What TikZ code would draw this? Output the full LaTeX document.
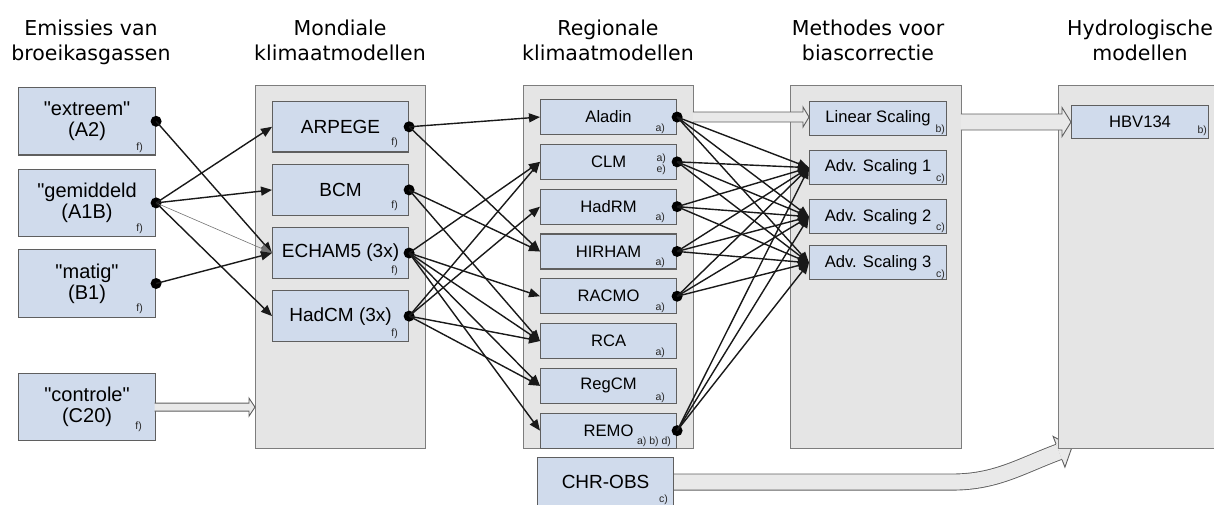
\documentclass[tikz,border=0pt]{standalone}
\usepackage{fontspec}
\setmainfont{Liberation Sans}[Ligatures=TeXOff]
\newfontfamily\headfont{DejaVu Sans}
\usetikzlibrary{positioning,arrows.meta,calc,backgrounds}

\definecolor{modelfill}{RGB}{208,219,236}
\definecolor{panelfill}{RGB}{229,229,229}
\definecolor{panelline}{RGB}{125,125,125}
\definecolor{boxline}{RGB}{95,95,95}
\definecolor{fatfill}{RGB}{233,233,233}

\begin{document}
\begin{tikzpicture}[
  x=1pt, y=-1pt,
  colhead/.style={font=\headfont\fontsize{20.5}{25}\selectfont, align=center,
                  anchor=north, inner sep=0pt},
  panel/.style={draw=panelline, fill=panelfill, line width=1.3pt, inner sep=0pt,
                anchor=north west, minimum width=170pt, minimum height=363pt},
  model/.style={draw=boxline, fill=modelfill, line width=1.1pt, inner sep=0pt,
                align=center, minimum width=136pt},
  scen/.style={model, minimum width=137pt, minimum height=67.5pt,
               font=\fontsize{20}{21}\selectfont},
  gcmbox/.style={model, minimum height=50.5pt, font=\fontsize{19}{21}\selectfont},
  rcmbox/.style={model, minimum height=35pt, font=\fontsize{16.6}{18}\selectfont},
  biasbox/.style={model, minimum width=137pt, minimum height=34pt,
                  font=\fontsize{16.6}{18}\selectfont},
  dot/.style={circle, fill=black, inner sep=0pt, minimum size=11pt},
  link/.style={-{Triangle[length=11pt,width=9pt]}, line width=1.4pt, black!90},
  weaklink/.style={link, line width=0.6pt, black!55},
  fn/.style={font=\fontsize{10.5}{11}\selectfont, text=black!85, anchor=south east,
             inner sep=0pt, align=right},
  fat/.style={draw=boxline, fill=fatfill, line width=0.9pt},
]
  \useasboundingbox (0,0) rectangle (1214,505);
  \clip (0,0) rectangle (1214,505);

  % column headings
  \node[colhead] (t-emi) at (91,20) {Emissies van\\broeikasgassen};
  \node[colhead] (t-gcm) at (340,20) {Mondiale\\klimaatmodellen};
  \node[colhead] (t-rcm) at (608,20) {Regionale\\klimaatmodellen};
  \node[colhead] (t-bias) at (868,20) {Methodes voor\\biascorrectie};
  \node[colhead] (t-hyd) at (1140,20) {Hydrologische\\modellen};

  % grey panels
  \node[panel] (gcm) at (255,85) {};
  \node[panel] (rcm) at (523,85) {};
  \node[panel, minimum width=171pt] (bias) at (790,85) {};
  \node[panel] (hyd) at (1058,85) {};

  % emission scenarios
  \node[scen, anchor=north west] (a2) at (18,87) {"extreem"\\(A2)};
  \node[scen, below=13pt of a2] (a1b) {"gemiddeld\\(A1B)};
  \node[scen, below=12pt of a1b] (b1) {"matig"\\(B1)};
  \node[scen, below=55pt of b1] (c20) {"controle"\\(C20)};

  % global models
  \node[gcmbox, anchor=north west] (arpege) at (272,101) {ARPEGE};
  \node[gcmbox, below=11.5pt of arpege] (bcm) {BCM};
  \node[gcmbox, below=11.5pt of bcm] (echam) {ECHAM5 (3x)};
  \node[gcmbox, below=11.5pt of echam] (hadcm) {HadCM (3x)};

  % regional models
  \node[rcmbox, anchor=north west] (aladin) at (540,99) {Aladin};
  \node[rcmbox, below=8.7pt of aladin] (clm) {CLM};
  \node[rcmbox, below=8.7pt of clm] (hadrm) {HadRM};
  \node[rcmbox, below=8.7pt of hadrm] (hirham) {HIRHAM};
  \node[rcmbox, below=8.7pt of hirham] (racmo) {RACMO};
  \node[rcmbox, below=8.7pt of racmo] (rca) {RCA};
  \node[rcmbox, below=8.7pt of rca] (regcm) {RegCM};
  \node[rcmbox, below=8.7pt of regcm] (remo) {REMO};

  % bias correction, hydrology, observations
  \node[biasbox, anchor=north west] (lin) at (809,101) {Linear Scaling};
  \node[biasbox, below=14pt of lin] (adv1) {Adv. Scaling 1};
  \node[biasbox, below=14pt of adv1] (adv2) {Adv. Scaling 2};
  \node[biasbox, below=11pt of adv2] (adv3) {Adv. Scaling 3};
  \node[biasbox, minimum height=33pt, anchor=north west] (hbv) at (1071,105) {HBV134};
  \node[gcmbox, minimum height=49pt, anchor=north west] (obs) at (537,457) {CHR-OBS};

  % observations feed the hydrological model (passes under its panel)
  \begin{scope}[on background layer]
    \coordinate (obs-bend) at ($(obs.east)+(278,0)$);
    \coordinate (obs-tip) at ($(hyd.south west)+(1,2.5)$);
    \draw[boxline, line width=17pt] (obs.east) -- (obs-bend)
      .. controls +(44,0) and +(-39,14.5) .. (obs-tip);
    \draw[fatfill, line width=15.2pt] (obs.east) -- (obs-bend)
      .. controls +(44,0) and +(-39,14.5) .. (obs-tip);
    \filldraw[fat, shift={(obs-tip)}, rotate=21]
      (0,-8.5) -- (0,-16.5) -- (14,0) -- (0,16.5) -- (0,8.5);
  \end{scope}

  % block arrows
  \coordinate (c20-tail) at ($(c20.east)+(-1.5,0)$);
  \coordinate (c20-tip) at (c20.east -| gcm.west);
  \filldraw[fat] ($(c20-tail)+(0,-4)$) -- ($(c20-tip)+(-6,-4)$) -- ($(c20-tip)+(-6,-9)$)
    -- (c20-tip) -- ($(c20-tip)+(-6,9)$) -- ($(c20-tip)+(-6,4)$) -- ($(c20-tail)+(0,4)$);
  \coordinate (ala-tail) at ($(aladin.east -| rcm.east)+(-1.5,0)$);
  \coordinate (ala-tip) at (lin.west |- aladin.east);
  \filldraw[fat] ($(ala-tail)+(0,-5)$) -- ($(ala-tip)+(-6,-5)$) -- ($(ala-tip)+(-6,-10)$)
    -- (ala-tip) -- ($(ala-tip)+(-6,10)$) -- ($(ala-tip)+(-6,5)$) -- ($(ala-tail)+(0,5)$);
  \coordinate (lin-tail) at ($(hbv.west -| bias.east)+(-1.5,0)$);
  \filldraw[fat] ($(lin-tail)+(0,-8)$) -- ($(hbv.west)+(-9,-8)$) -- ($(hbv.west)+(-9,-14.5)$)
    -- (hbv.west) -- ($(hbv.west)+(-9,14.5)$) -- ($(hbv.west)+(-9,8)$) -- ($(lin-tail)+(0,8)$);

  % output ports
  \node[dot] (a2-d) at (a2.east) {};
  \node[dot] (a1b-d) at (a1b.east) {};
  \node[dot] (b1-d) at (b1.east) {};
  \node[dot] (arpege-d) at (arpege.east) {};
  \node[dot] (bcm-d) at (bcm.east) {};
  \node[dot] (echam-d) at (echam.east) {};
  \node[dot] (hadcm-d) at (hadcm.east) {};
  \node[dot] (aladin-d) at (aladin.east) {};
  \node[dot] (clm-d) at (clm.east) {};
  \node[dot] (hadrm-d) at (hadrm.east) {};
  \node[dot] (hirham-d) at (hirham.east) {};
  \node[dot] (racmo-d) at (racmo.east) {};
  \node[dot] (remo-d) at (remo.east) {};

  % scenario -> GCM
  \draw[link] (a2-d.center) -- (echam.west);
  \draw[link] (a1b-d.center) -- (arpege.west);
  \draw[link] (a1b-d.center) -- (bcm.west);
  \draw[weaklink] (a1b-d.center) -- (echam.west);
  \draw[link] (a1b-d.center) -- (hadcm.west);
  \draw[link] (b1-d.center) -- (echam.west);

  % GCM -> RCM
  \draw[link] (arpege-d.center) -- (aladin.west);
  \draw[link] (arpege-d.center) -- (hirham.west);
  \draw[link] (bcm-d.center) -- (hirham.west);
  \draw[link] (bcm-d.center) -- (rca.west);
  \draw[link] (echam-d.center) -- (clm.west);
  \draw[link] (echam-d.center) -- (racmo.west);
  \draw[link] (echam-d.center) -- (rca.west);
  \draw[link] (echam-d.center) -- (regcm.west);
  \draw[link] (echam-d.center) -- (remo.west);
  \draw[link] (hadcm-d.center) -- (clm.west);
  \draw[link] (hadcm-d.center) -- (hadrm.west);
  \draw[link] (hadcm-d.center) -- (rca.west);
  \draw[link] (hadcm-d.center) -- (regcm.west);

  % RCM -> advanced scaling
  \draw[link] (aladin-d.center) -- (adv1.west);
  \draw[link] (aladin-d.center) -- (adv2.west);
  \draw[link] (aladin-d.center) -- (adv3.west);
  \draw[link] (clm-d.center) -- (adv1.west);
  \draw[link] (clm-d.center) -- (adv2.west);
  \draw[link] (clm-d.center) -- (adv3.west);
  \draw[link] (hadrm-d.center) -- (adv1.west);
  \draw[link] (hadrm-d.center) -- (adv2.west);
  \draw[link] (hadrm-d.center) -- (adv3.west);
  \draw[link] (hirham-d.center) -- (adv1.west);
  \draw[link] (hirham-d.center) -- (adv2.west);
  \draw[link] (hirham-d.center) -- (adv3.west);
  \draw[link] (racmo-d.center) -- (adv1.west);
  \draw[link] (racmo-d.center) -- (adv2.west);
  \draw[link] (racmo-d.center) -- (adv3.west);
  \draw[link] (remo-d.center) -- (adv1.west);
  \draw[link] (remo-d.center) -- (adv2.west);
  \draw[link] (remo-d.center) -- (adv3.west);

  % source notes
  \node[fn, xshift=-13pt, yshift=2.5pt] (a2-n) at (a2.south east) {f)};
  \node[fn, xshift=-13pt, yshift=3pt] (a1b-n) at (a1b.south east) {f)};
  \node[fn, xshift=-13pt, yshift=4pt] (b1-n) at (b1.south east) {f)};
  \node[fn, xshift=-14pt, yshift=10pt] (c20-n) at (c20.south east) {f)};
  \node[fn, xshift=-11pt, yshift=4.5pt] (arpege-n) at (arpege.south east) {f)};
  \node[fn, xshift=-11pt, yshift=4.5pt] (bcm-n) at (bcm.south east) {f)};
  \node[fn, xshift=-11pt, yshift=3pt] (echam-n) at (echam.south east) {f)};
  \node[fn, xshift=-11pt, yshift=3pt] (hadcm-n) at (hadcm.south east) {f)};
  \node[fn, xshift=-12pt, yshift=1.5pt] (aladin-n) at (aladin.south east) {a)};
  \node[fn, xshift=-11pt, yshift=5pt] (clm-n) at (clm.south east) {a)\\e)};
  \node[fn, xshift=-12pt, yshift=1.5pt] (hadrm-n) at (hadrm.south east) {a)};
  \node[fn, xshift=-12pt, yshift=1.5pt] (hirham-n) at (hirham.south east) {a)};
  \node[fn, xshift=-12pt, yshift=1.5pt] (racmo-n) at (racmo.south east) {a)};
  \node[fn, xshift=-12pt, yshift=1.5pt] (rca-n) at (rca.south east) {a)};
  \node[fn, xshift=-12pt, yshift=1.5pt] (regcm-n) at (regcm.south east) {a)};
  \node[fn, xshift=-6pt, yshift=2pt] (remo-n) at (remo.south east) {a) b) d)};
  \node[fn, xshift=-2pt, yshift=1pt] (lin-n) at (lin.south east) {b)};
  \node[fn, xshift=-2pt, yshift=1pt] (adv1-n) at (adv1.south east) {c)};
  \node[fn, xshift=-2pt, yshift=1pt] (adv2-n) at (adv2.south east) {c)};
  \node[fn, xshift=-2pt, yshift=1pt] (adv3-n) at (adv3.south east) {c)};
  \node[fn, xshift=-2pt, yshift=3pt] (hbv-n) at (hbv.south east) {b)};
  \node[fn, xshift=-6pt, yshift=2pt] (obs-n) at (obs.south east) {c)};
\end{tikzpicture}
\end{document}
